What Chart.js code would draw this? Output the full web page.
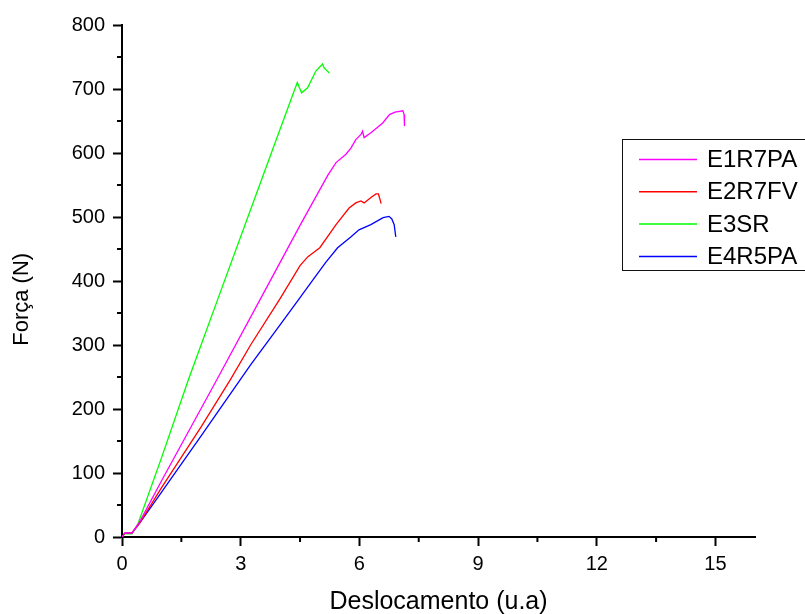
<!DOCTYPE html>
<html>
<head>
<meta charset="utf-8">
<script src="https://cdn.jsdelivr.net/npm/chart.js@4.4.1/dist/chart.umd.min.js"></script>
<style>
    html, body { margin: 0; padding: 0; background: #fff; }
</style>
</head>
<body>
<canvas id="forceChart" width="805" height="614"></canvas>
<script>
const X_TICKS = [0, 3, 6, 9, 12, 15];
const X_MINOR = [1.5, 4.5, 7.5, 10.5, 13.5];
const Y_TICKS = [0, 100, 200, 300, 400, 500, 600, 700, 800];
const Y_MINOR = [50, 150, 250, 350, 450, 550, 650, 750];

const SERIES_LABELS = ["E1R7PA", "E2R7FV", "E3SR", "E4R5PA"];
const SERIES_COLORS = ["#ff00ff", "#ff0000", "#00ff00", "#0000ff"];

const e1r7paX = [0, 0.07, 0.25, 0.45, 1.0, 2.4, 3.5, 4.5, 5.2, 5.41, 5.66, 5.79, 5.91, 6.04, 6.08, 6.12, 6.3, 6.59, 6.76, 6.9, 7.1, 7.13, 7.14];
const e1r7paY = [0, 6, 6, 24, 88, 246, 372, 487, 565, 585, 598, 608, 621, 629, 634, 624, 632, 647, 660, 664, 666, 660, 642];

const e2r7fvX = [0, 0.07, 0.25, 0.45, 1.0, 2.0, 2.74, 3.25, 4.0, 4.5, 4.7, 4.85, 5.0, 5.41, 5.74, 5.91, 6.04, 6.12, 6.3, 6.42, 6.48, 6.52, 6.55];
const e2r7fvY = [0, 6, 6, 22, 77, 172, 246, 300, 373, 424, 438, 445, 452, 488, 514, 522, 525, 522, 531, 536, 536, 528, 521];

const e3srX = [0, 0.07, 0.25, 0.4, 1.0, 1.68, 2.5, 3.3, 4.0, 4.43, 4.54, 4.69, 4.9, 5.07, 5.11, 5.24];
const e3srY = [0, 5, 5, 20, 124, 246, 385, 520, 638, 710, 694, 702, 728, 739, 733, 725];

const e4r5paX = [0, 0.07, 0.25, 0.45, 1.0, 2.0, 2.99, 3.25, 4.0, 4.5, 4.9, 5.15, 5.45, 5.79, 5.99, 6.29, 6.6, 6.75, 6.82, 6.88, 6.92];
const e4r5paY = [0, 6, 6, 22, 70, 158, 246, 269, 332, 374, 408, 429, 452, 469, 480, 488, 499, 501, 497, 488, 469];

const FONT = "'Liberation Sans', Arial, sans-serif";

function toPoints(xs, ys) {
    return xs.map((x, i) => ({ x: x, y: ys[i] }));
}

// small ticks between the labelled ones, drawn off the scales
const minorTicks = {
    id: "minorTicks",
    afterDraw(chart) {
        const { ctx, scales: { x, y } } = chart;
        ctx.save();
        ctx.strokeStyle = "#000";
        ctx.lineWidth = 2;
        ctx.beginPath();
        X_MINOR.forEach(v => {
            const px = x.getPixelForValue(v);
            ctx.moveTo(px, y.bottom);
            ctx.lineTo(px, y.bottom + 5);
        });
        Y_MINOR.forEach(v => {
            const py = y.getPixelForValue(v);
            ctx.moveTo(x.left, py);
            ctx.lineTo(x.left - 5, py);
        });
        ctx.stroke();
        ctx.restore();
    }
};

// boxed legend sitting over the right side of the plot
const boxLegend = {
    id: "boxLegend",
    afterDraw(chart) {
        const ctx = chart.ctx;
        ctx.save();
        ctx.strokeStyle = "#111";
        ctx.lineWidth = 1;
        ctx.strokeRect(622.5, 139.5, 200, 131);
        ctx.font = "24px " + FONT;
        ctx.textBaseline = "middle";
        chart.data.datasets.forEach((ds, i) => {
            const yy = 159.5 + i * 32.3;
            ctx.strokeStyle = ds.borderColor;
            ctx.lineWidth = 1.5;
            ctx.beginPath();
            ctx.moveTo(639, yy);
            ctx.lineTo(697, yy);
            ctx.stroke();
            ctx.fillStyle = "#000";
            ctx.fillText(ds.label, 707, yy + 1);
        });
        ctx.restore();
    }
};

const seriesX = [e1r7paX, e2r7fvX, e3srX, e4r5paX];
const seriesY = [e1r7paY, e2r7fvY, e3srY, e4r5paY];

new Chart(document.getElementById("forceChart"), {
    type: "line",
    data: {
        datasets: SERIES_LABELS.map((label, i) => ({
            label: label,
            data: toPoints(seriesX[i], seriesY[i]),
            borderColor: SERIES_COLORS[i],
            borderWidth: 1.3,
            pointRadius: 0,
            tension: 0,
            fill: false
        }))
    },
    options: {
        responsive: false,
        animation: false,
        devicePixelRatio: 1,
        layout: { padding: { left: 0, right: 50, top: 25, bottom: 0 } },
        plugins: {
            legend: { display: false },
            tooltip: { enabled: false }
        },
        scales: {
            x: {
                type: "linear",
                min: 0,
                max: 16,
                afterBuildTicks: scale => { scale.ticks = X_TICKS.map(v => ({ value: v })); },
                afterFit: scale => { scale.height = 77; },
                border: { color: "#000", width: 2 },
                grid: { drawOnChartArea: false, drawTicks: true, tickLength: 9, tickColor: "#000", tickWidth: 2 },
                ticks: { color: "#000", padding: 6, maxRotation: 0, font: { family: FONT, size: 20 } },
                title: { display: true, text: "Deslocamento (u.a)", color: "#000", padding: { top: 0, bottom: -3 }, font: { family: FONT, size: 25 } }
            },
            y: {
                type: "linear",
                min: 0,
                max: 800,
                afterBuildTicks: scale => { scale.ticks = Y_TICKS.map(v => ({ value: v })); },
                afterFit: scale => { scale.width = 122; },
                border: { color: "#000", width: 2 },
                grid: { drawOnChartArea: false, drawTicks: true, tickLength: 9, tickColor: "#000", tickWidth: 2 },
                ticks: { color: "#000", padding: 8, font: { family: FONT, size: 20 } },
                // trailing spaces push the rotated title down to where the original sits
                title: { display: true, text: "Força (N)      ", color: "#000", padding: { top: 9, bottom: 0 }, font: { family: FONT, size: 22 } }
            }
        }
    },
    plugins: [minorTicks, boxLegend]
});
</script>
</body>
</html>
